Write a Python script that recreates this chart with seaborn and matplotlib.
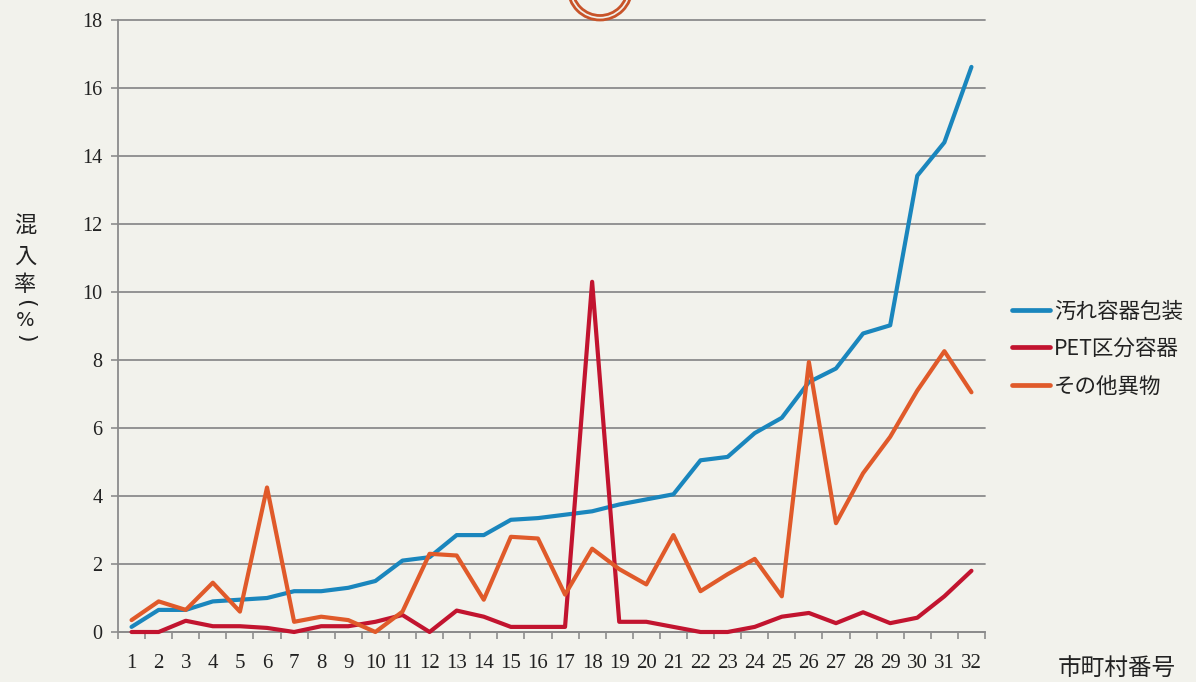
import numpy as np
import pandas as pd
import matplotlib
matplotlib.use("Agg")
import matplotlib.pyplot as plt
import seaborn as sns
from matplotlib.patches import Ellipse
from matplotlib.lines import Line2D
from matplotlib.ticker import MultipleLocator, FixedLocator

# ---- data ----
municipalities = list(range(1, 33))
soiled = [0.15, 0.65, 0.65, 0.9, 0.95, 1.0, 1.2, 1.2, 1.3, 1.5,
          2.1, 2.2, 2.85, 2.85, 3.3, 3.35, 3.45, 3.55, 3.75, 3.9,
          4.05, 5.05, 5.15, 5.85, 6.3, 7.35, 7.75, 8.78, 9.02, 13.42,
          14.4, 16.62]
pet = [0.0, 0.0, 0.33, 0.17, 0.17, 0.12, 0.0, 0.17, 0.17, 0.3,
       0.5, 0.0, 0.63, 0.45, 0.15, 0.15, 0.15, 10.3, 0.3, 0.3,
       0.15, 0.0, 0.0, 0.15, 0.45, 0.56, 0.26, 0.58, 0.26, 0.42,
       1.05, 1.8]
other = [0.35, 0.9, 0.65, 1.45, 0.6, 4.25, 0.3, 0.45, 0.35, 0.0,
         0.6, 2.3, 2.25, 0.95, 2.8, 2.75, 1.1, 2.45, 1.85, 1.4,
         2.85, 1.2, 1.7, 2.15, 1.05, 7.94, 3.2, 4.67, 5.74, 7.1,
         8.26, 7.05]
series_names = ["汚れ容器包装", "PET区分容器", "その他異物"]
series_colors = ["#1a86bd", "#c2142f", "#e05a2a"]
y_ticks = [0, 2, 4, 6, 8, 10, 12, 14, 16, 18]
x_labels = [str(m) for m in municipalities]
y_title_chars = ["混", "入", "率", "(", "%", ")"]
x_title = "市町村番号"

df = pd.DataFrame({
    "番号": municipalities * 3,
    "率": soiled + pet + other,
    "系列": [series_names[0]] * 32 + [series_names[1]] * 32 + [series_names[2]] * 32,
})

# ---- style ----
sns.set_theme(style="white")
plt.rcParams["font.family"] = ["Noto Sans CJK JP", "DejaVu Sans"]
bg = "#f2f2ec"
txt_c = "#222222"
serif = ["Liberation Serif", "DejaVu Serif"]
cjk = ["Noto Sans CJK JP", "DejaVu Sans"]

fig = plt.figure(figsize=(11.96, 6.82), dpi=100, facecolor=bg)
ax = fig.add_axes([118 / 1196, 50 / 682, 867 / 1196, 612 / 682])
ax.set_facecolor(bg)

sns.lineplot(data=df, x="番号", y="率", hue="系列", hue_order=series_names,
             palette=series_colors, linewidth=3.0, ax=ax, legend=False,
             zorder=3)
for ln in ax.lines:
    ln.set_clip_on(False)

ax.set_xlim(0.5, 32.5)
ax.set_ylim(0, 18)

grid_c = "#8c8c8c"
ax.yaxis.set_major_locator(FixedLocator(y_ticks))
ax.yaxis.grid(True, color=grid_c, linewidth=1.3, zorder=0)
ax.xaxis.grid(False)
for g in ax.get_ygridlines():
    g.set_clip_on(False)

for s in ["top", "right"]:
    ax.spines[s].set_visible(False)
for s in ["left", "bottom"]:
    ax.spines[s].set_color(grid_c)
    ax.spines[s].set_linewidth(1.3)

ax.set_xticks(municipalities)
ax.set_xticklabels(x_labels, fontfamily=serif, fontsize=15, color=txt_c)
ax.set_yticks(y_ticks)
ax.set_yticklabels([str(v) for v in y_ticks], fontfamily=serif,
                   fontsize=14.5, color=txt_c)
ax.xaxis.set_minor_locator(MultipleLocator(1, offset=0.5))
ax.tick_params(axis="x", which="major", length=0, pad=16)
ax.tick_params(axis="x", which="minor", length=5, width=1.2,
               color=grid_c, direction="out", bottom=True)
ax.tick_params(axis="y", which="major", length=5, width=1.2, color=grid_c,
               direction="out", left=True, pad=6)

ax.set_xlabel("")
ax.set_ylabel("")

# y title (vertical, stacked characters; brackets turned for vertical text)
y_centers = [225, 256, 284, 303, 320, 338]
for ch, yc in zip(y_title_chars, y_centers):
    if ch in "()":
        fig.text(25 / 1196, 1 - yc / 682, ch, ha="center", va="center",
                 fontsize=16, rotation=-90, color=txt_c,
                 family=["DejaVu Sans"])
    elif ch == "%":
        fig.text(25 / 1196, 1 - yc / 682, ch, ha="center", va="center",
                 fontsize=14, color=txt_c, family=["DejaVu Sans"])
    else:
        fig.text(25 / 1196, 1 - yc / 682, ch, ha="center", va="center",
                 fontsize=16, color=txt_c, family=cjk)
# x title
fig.text(1117 / 1196, 1 - 668 / 682, x_title, ha="center", va="center",
         fontsize=17, color=txt_c, family=cjk)

# legend
handles = [Line2D([0], [0], color=c, lw=3.4) for c in series_colors]
fig.legend(handles, series_names, loc="center left",
           bbox_to_anchor=(1012 / 1196, 1 - 349 / 682), frameon=False,
           fontsize=15.5, handlelength=1.75, handletextpad=0.2,
           labelspacing=0.72, borderpad=0, borderaxespad=0,
           labelcolor=txt_c)

# decorative double ring at top
cx, cy = 600 / 1196, (682 + 12) / 682
for r in (32, 27.5):
    fig.patches.append(Ellipse((cx, cy), 2 * r / 1196, 2 * r / 682,
                               transform=fig.transFigure, fill=False,
                               edgecolor="#c8542a", linewidth=2.0))

fig.savefig("out.png", dpi=100, facecolor=bg)
